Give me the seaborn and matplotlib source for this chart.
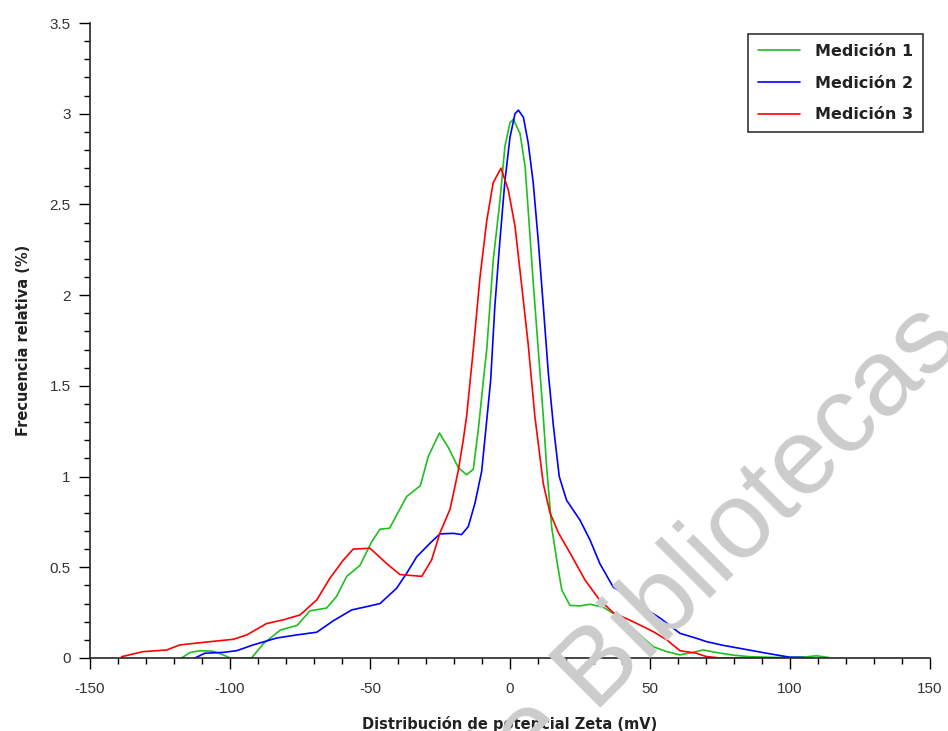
import matplotlib
matplotlib.use("Agg")
import matplotlib.pyplot as plt
import seaborn as sns
import pandas as pd
from matplotlib.ticker import MultipleLocator

# Medición 1 (green)
x_m1 = [-117.3, -114.3, -110.7, -106, -102.4, -100, -92.3, -88, -82, -76, -71.4, -65.5,
        -61.9, -58.3, -53.6, -49.4, -46.4, -43, -36.9, -32, -29.2, -25.2, -22, -18.5,
        -15.5, -13.1, -11.3, -9.5, -8.3, -6, -3.6, -1.8, 0, 1.2, 3.6, 5.4, 6.5, 8.3,
        10.1, 11.9, 13.1, 14.9, 16.7, 18.5, 21.4, 25, 28.6, 33.3, 36.9, 41.7, 46.4,
        51.2, 56, 60.7, 65, 69, 73.8, 80, 85.7, 95, 105, 109.5, 113.7]
y_m1 = [0, 0.03, 0.04, 0.037, 0.017, 0, 0, 0.08, 0.154, 0.18, 0.26, 0.275,
        0.34, 0.45, 0.51, 0.64, 0.71, 0.715, 0.89, 0.95, 1.11, 1.24, 1.16, 1.05,
        1.01, 1.04, 1.26, 1.53, 1.70, 2.19, 2.52, 2.82, 2.95, 2.97, 2.89, 2.71, 2.47, 2.07,
        1.70, 1.33, 1.05, 0.72, 0.54, 0.375, 0.29, 0.287, 0.296, 0.28, 0.246, 0.19, 0.127,
        0.062, 0.035, 0.017, 0.03, 0.044, 0.03, 0.015, 0.007, 0.003, 0.005, 0.012, 0.003]

# Medición 2 (blue)
x_m2 = [-112.5, -109, -102.4, -97.6, -91.7, -83.3, -76.2, -69, -63.1, -56.5, -50.6, -46.4,
        -40.5, -36.9, -33.3, -28.6, -25, -20.2, -17.3, -14.9, -12.5, -10.1, -8.3, -6.9,
        -5.4, -3.6, -1.8, 0, 1.8, 3, 4.8, 6.5, 8.3, 10.1, 11.9, 13.7, 15.5, 17.6, 20.2,
        25, 28.6, 32.1, 36.9, 41.7, 46.4, 53.6, 60.7, 66.7, 70.2, 76, 82.1, 91.7, 100, 105]
y_m2 = [0, 0.026, 0.031, 0.04, 0.072, 0.11, 0.127, 0.142, 0.205, 0.265, 0.285, 0.30,
        0.384, 0.467, 0.558, 0.632, 0.684, 0.687, 0.68, 0.724, 0.853, 1.03, 1.31, 1.53,
        1.94, 2.30, 2.63, 2.87, 3.0, 3.02, 2.98, 2.84, 2.62, 2.30, 1.94, 1.57, 1.28, 1.0, 0.87,
        0.76, 0.65, 0.52, 0.39, 0.347, 0.29, 0.22, 0.136, 0.108, 0.09, 0.07, 0.053, 0.026, 0.004, 0.003]

# Medición 3 (red)
x_m3 = [-138.7, -131, -122.6, -117.9, -109.5, -98.8, -94, -86.9, -81, -75, -69, -64.3,
        -59.5, -56, -50, -44, -39.3, -31.5, -28, -25, -21.4, -18.5, -16.7, -15.5, -13.1,
        -10.7, -8.3, -6, -3.2, -0.6, 1.8, 4.2, 6.5, 8.9, 11.9, 14.3, 17.3, 21.4, 26.8,
        32, 36.9, 44, 51.2, 56, 60.7, 66.7, 70, 75, 107.7]
y_m3 = [0.007, 0.035, 0.044, 0.072, 0.086, 0.103, 0.127, 0.19, 0.21, 0.237, 0.32, 0.44,
        0.54, 0.6, 0.605, 0.52, 0.46, 0.45, 0.54, 0.69, 0.82, 1.03, 1.2, 1.33, 1.70,
        2.10, 2.41, 2.62, 2.70, 2.58, 2.38, 2.05, 1.73, 1.33, 0.96, 0.80, 0.69, 0.58, 0.43,
        0.32, 0.25, 0.20, 0.145, 0.10, 0.04, 0.026, 0.008, 0.0, 0.0]

labels = ["Medición 1", "Medición 2", "Medición 3"]
colors = ["#1fbf1f", "#0000ff", "#ff0000"]

df = pd.concat([
    pd.DataFrame({"x": x_m1, "y": y_m1, "serie": labels[0]}),
    pd.DataFrame({"x": x_m2, "y": y_m2, "serie": labels[1]}),
    pd.DataFrame({"x": x_m3, "y": y_m3, "serie": labels[2]}),
])

sns.set_style("ticks")
plt.rcParams["font.family"] = ["DejaVu Sans"]
plt.rcParams["axes.unicode_minus"] = False

fig = plt.figure(figsize=(9.48, 7.31), dpi=100)
ax = fig.add_axes([0.0949, 0.0999, 0.8861, 0.8686])

# watermark, starts below the bottom edge and runs off to the right
fig.text(0.515, -0.122, "de Bibliotecas", fontsize=78, color="#cccccc", rotation=45,
         rotation_mode="anchor", ha="left", va="baseline",
         family="Liberation Sans", zorder=0)
ax.patch.set_alpha(0)

sns.lineplot(data=df, x="x", y="y", hue="serie", palette=colors, estimator=None,
             sort=False, linewidth=1.2, ax=ax)

ax.set_xlim(-150, 150)
ax.set_ylim(0, 3.5)
ax.xaxis.set_major_locator(MultipleLocator(50))
ax.xaxis.set_minor_locator(MultipleLocator(10))
ax.yaxis.set_major_locator(MultipleLocator(0.5))
ax.yaxis.set_minor_locator(MultipleLocator(0.1))
ax.yaxis.set_major_formatter(plt.FuncFormatter(lambda v, p: f"{v:g}"))

ax.tick_params(which="major", direction="out", length=8, width=1, color="black",
               labelsize=11, labelcolor="#333333", pad=6)
ax.tick_params(axis="x", which="major", pad=9)
ax.tick_params(which="minor", direction="out", length=4, width=1, color="black")
for t in ax.get_xticklabels() + ax.get_yticklabels():
    t.set_family("Liberation Sans")

sns.despine(ax=ax)
ax.spines["left"].set_linewidth(1.2)
ax.spines["bottom"].set_linewidth(1.2)

ax.set_xlabel("Distribución de potencial Zeta (mV)", fontsize=10.5, fontweight="bold",
              color="#222222", labelpad=15)
ax.set_ylabel("Frecuencia relativa (%)", fontsize=10.5, fontweight="bold",
              color="#222222", labelpad=13)

leg = ax.legend(loc="upper right", bbox_to_anchor=(0.9917, 0.9827),
                prop={"size": 11.5, "weight": "bold"},
                frameon=True, fancybox=False, edgecolor="black", labelspacing=1.05,
                handlelength=2.6, handletextpad=0.95, borderpad=0.62, borderaxespad=0)
leg.get_frame().set_linewidth(1.2)
for txt in leg.get_texts():
    txt.set_color("#222222")

fig.savefig("out.png", dpi=100)
